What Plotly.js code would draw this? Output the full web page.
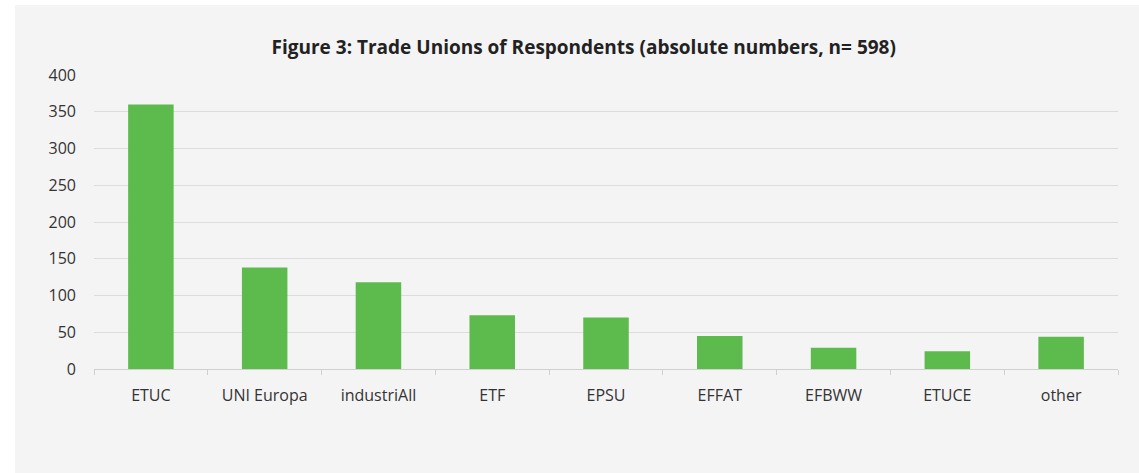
<!DOCTYPE html>
<html>
<head>
<meta charset="utf-8">
<script src="https://cdn.plot.ly/plotly-3.0.1.min.js"></script>
<style>
  html, body { margin: 0; padding: 0; background: #ffffff; width: 1139px; height: 473px; overflow: hidden; }
  #chart { position: absolute; left: 15px; top: 5px; width: 1124px; height: 468px; }
</style>
</head>
<body>
<div id="chart"></div>
<script>
const categories = ["ETUC", "UNI Europa", "industriAll", "ETF", "EPSU", "EFFAT", "EFBWW", "ETUCE", "other"];
const respondents = [360, 138, 118, 73, 70, 45, 29, 24, 44];
const yTicks = [0, 50, 100, 150, 200, 250, 300, 350, 400];
const chartTitle = "Figure 3: Trade Unions of Respondents (absolute numbers, n= 598)";

const trace = {
  type: "bar",
  x: categories,
  y: respondents,
  marker: { color: "#5DBB4E" },
  hoverinfo: "x+y"
};

const layout = {
  width: 1124,
  height: 468,
  paper_bgcolor: "#f5f4f5",
  plot_bgcolor: "#f5f4f5",
  margin: { l: 79, r: 21, t: 70, b: 104 },
  bargap: 0.6,
  showlegend: false,
  font: { family: "Open Sans, sans-serif", color: "#333333", size: 16 },
  title: {
    text: "<b>" + chartTitle + "</b>",
    font: { family: "Open Sans, sans-serif", size: 19, color: "#222222" },
    xref: "container", x: 0.506, xanchor: "center",
    yref: "container", y: 0.91, yanchor: "middle"
  },
  xaxis: {
    type: "category",
    showgrid: false,
    showline: true,
    linecolor: "#d0d0d0",
    linewidth: 1,
    ticks: "outside",
    tickson: "boundaries",
    ticklen: 5,
    tickcolor: "#d0d0d0",
    ticklabelstandoff: 12,
    tickfont: { size: 16, color: "#333333" },
    fixedrange: true
  },
  yaxis: {
    range: [0, 400],
    tickvals: yTicks,
    showgrid: true,
    gridcolor: "#dcdcdc",
    gridwidth: 1,
    zeroline: false,
    showline: false,
    ticks: "",
    ticklabelstandoff: 17,
    tickfont: { size: 16, color: "#333333" },
    fixedrange: true
  }
};

Plotly.newPlot("chart", [trace], layout, { displayModeBar: false, staticPlot: true });
</script>
</body>
</html>
